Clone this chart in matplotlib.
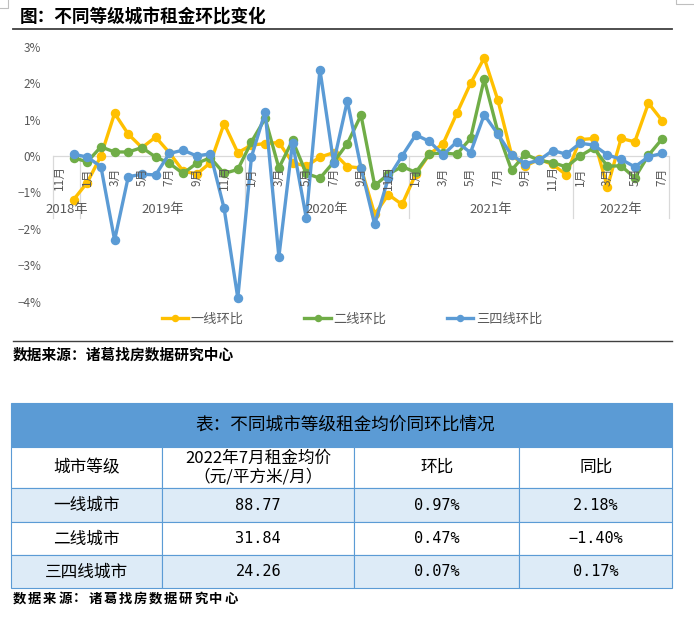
import matplotlib.pyplot as plt
import matplotlib.patches as patches
import numpy as np
import pandas as pd

plt.rcParams['font.family'] = ['Noto Sans CJK SC', 'DejaVu Sans']

# --- data ---
months = pd.period_range('2018-11', '2022-07', freq='M')
nan = np.nan
tier1 = [nan, -1.20, -0.73, 0.00, 1.17, 0.60, 0.23, 0.52, 0.09, -0.41, -0.50, -0.18, 0.89, 0.09,
         0.30, 0.34, 0.37, -0.18, -0.28, -0.03, 0.09, -0.29, -0.33, -1.60, -1.06, -1.33,
         -0.50, 0.05, 0.34, 1.17, 1.99, 2.69, 1.53, 0.03, -0.28, -0.09, -0.23, -0.52,
         0.45, 0.48, -0.85, 0.48, 0.39, 1.45, 0.97]
tier2 = [nan, -0.05, -0.16, 0.25, 0.11, 0.11, 0.23, -0.03, -0.20, -0.48, -0.20, -0.05, -0.48, -0.37,
         0.39, 1.03, -0.33, 0.43, -0.48, -0.61, -0.17, 0.34, 1.12, -0.81, -0.50, -0.29,
         -0.45, 0.06, 0.08, 0.05, 0.48, 2.11, 0.66, -0.39, 0.05, -0.12, -0.18, -0.30,
         0.00, 0.22, -0.28, -0.27, -0.60, 0.02, 0.47]
tier34 = [nan, 0.05, -0.03, -0.29, -2.31, -0.57, -0.50, -0.52, 0.07, 0.16, 0.00, 0.06, -1.44, -3.90,
          -0.02, 1.21, -2.77, 0.37, -1.70, 2.37, -0.18, 1.51, -0.32, -1.88, -0.60, 0.00,
          0.58, 0.40, 0.03, 0.39, 0.09, 1.13, 0.60, 0.02, -0.21, -0.12, 0.15, 0.05,
          0.35, 0.30, 0.03, -0.09, -0.30, -0.02, 0.07]
series_names = ['一线环比', '二线环比', '三四线环比']
series_colors = ['#FFC000', '#70AD47', '#5B9BD5']
y_ticks = [3, 2, 1, 0, -1, -2, -3, -4]

table_title = '表：不同城市等级租金均价同环比情况'
table_header = ['城市等级', '2022年7月租金均价\n（元/平方米/月）', '环比', '同比']
city_tiers = ['一线城市', '二线城市', '三四线城市']
avg_rent = ['88.77', '31.84', '24.26']
rent_mom = ['0.97%', '0.47%', '0.07%']
rent_yoy = ['2.18%', '−1.40%', '0.17%']
source = '数据来源：诸葛找房数据研究中心'

W, H = 694, 628
fig = plt.figure(figsize=(W / 100, H / 100), dpi=100)

# background axes in pixel coordinates (for title, lines, table)
bg = fig.add_axes([0, 0, 1, 1])
bg.set_xlim(0, W)
bg.set_ylim(H, 0)
bg.axis('off')

# --- line chart ---
x0, x1 = 53, 669
ytop, ybot = 46.7, 301.7   # 3% ... -4%
ax = fig.add_axes([x0 / W, 1 - ybot / H, (x1 - x0) / W, (ybot - ytop) / H])
ax.set_facecolor('none')
n = len(months)
x = np.arange(n)
ax.set_xlim(-0.5, n - 0.5)
ax.set_ylim(-4, 3)

grid_c = '#D9D9D9'
ax.axhline(0, color=grid_c, lw=0.9, zorder=0)

handles = []
for vals, name, c in zip([tier1, tier2, tier34], series_names, series_colors):
    h, = ax.plot(x, vals, color=c, lw=2.4, marker='o', ms=5.8, label=name,
                 clip_on=False, solid_joinstyle='round')
    handles.append(h)

# category labels: months and year groups
for i in range(0, n, 2):
    ax.text(i, -0.58, f'{months[i].month}月', rotation=90, ha='center', va='center',
            fontsize=8.5, color='#595959')

years = np.array([p.year for p in months])
bounds = [-0.5] + [i - 0.5 for i in range(1, n) if years[i] != years[i - 1]] + [n - 0.5]
for b in bounds:
    ax.plot([b, b], [0, -1.70], color=grid_c, lw=0.9, clip_on=False, zorder=0)
for a, b in zip(bounds[:-1], bounds[1:]):
    yr = years[int(a + 0.5)]
    ax.text((a + b) / 2, -1.48, f'{yr}年', ha='center', va='center', fontsize=9.5, color='#595959')

ax.set_yticks(y_ticks)
ax.set_yticklabels([f'{t}%'.replace('-', '−') for t in y_ticks])
ax.tick_params(length=0, pad=8.5, labelsize=8.5, labelcolor='#595959')
ax.set_xticks([])
for s in ax.spines.values():
    s.set_visible(False)

fig.legend(handles=handles, loc='center', bbox_to_anchor=(352 / W, 1 - 319.5 / H), ncol=3,
           frameon=False, fontsize=9.5, handlelength=2.0, handletextpad=0.2,
           columnspacing=4.6, labelcolor='#595959', markerscale=0.75)

# title and frame lines
bg.text(20, 16.5, '图：不同等级城市租金环比变化', fontsize=12.7, fontweight='bold', va='center')
bg.plot([13, 672], [29.3, 29.3], color='#404040', lw=1.3)
bg.plot([13, 672], [341, 341], color='#404040', lw=1.0)
bg.text(13, 355, source, fontsize=10.6, fontweight='bold', va='center')

# little page-corner marks
bg.plot([0, 8, 8], [8, 8, 0], color='#BFBFBF', lw=0.8)
bg.plot([676, 676, 694], [0, 4, 4], color='#BFBFBF', lw=0.8)

# --- table ---
blue = '#5B9BD5'
light = '#DDEBF7'
col_x = [11, 162.3, 354.3, 519.3, 672.3]
row_y = [446.7, 488.3, 522.3, 555.3, 588.3]
bg.add_patch(patches.Rectangle((col_x[0], 403.3), col_x[-1] - col_x[0], row_y[0] - 403.3,
                               facecolor=blue, edgecolor=blue, lw=0.8))
bg.text((col_x[0] + col_x[-1]) / 2 + 4, 425, table_title, fontsize=12.7, ha='center', va='center')

rows = [table_header] + [list(r) for r in zip(city_tiers, avg_rent, rent_mom, rent_yoy)]
for r, cells in enumerate(rows):
    fill = light if r in (1, 3) else 'white'
    for c, txt in enumerate(cells):
        bg.add_patch(patches.Rectangle((col_x[c], row_y[r]), col_x[c + 1] - col_x[c],
                                       row_y[r + 1] - row_y[r], facecolor=fill,
                                       edgecolor=blue, lw=0.8))
        cx = (col_x[c] + col_x[c + 1]) / 2
        cy = (row_y[r] + row_y[r + 1]) / 2
        if r > 0 and c > 0:
            bg.text(cx, cy, txt, fontsize=11, ha='center', va='center',
                    family=['DejaVu Sans Mono', 'Noto Sans CJK SC'])
        else:
            bg.text(cx, cy, txt, fontsize=12, ha='center', va='center', linespacing=1.1)

# bottom source line, letter-spaced like the original
for k, ch in enumerate(source):
    bg.text(13 + k * 15.1, 598.5, ch, fontsize=9.6, fontweight='bold', va='center')

fig.savefig('out.png', dpi=100)
